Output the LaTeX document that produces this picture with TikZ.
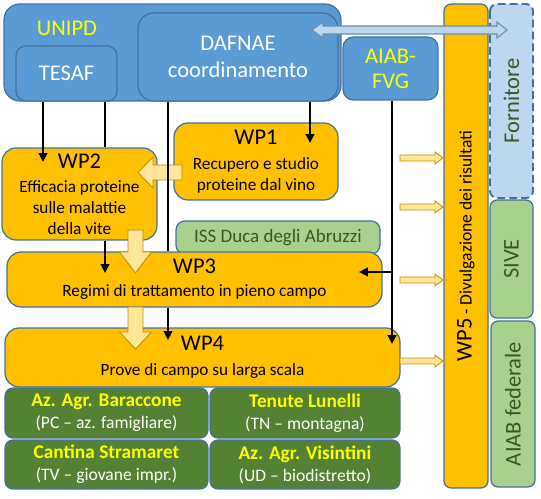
\documentclass[tikz,border=0pt]{standalone}
\usepackage{fontspec}
\setmainfont{Carlito}
\usetikzlibrary{arrows.meta}
\definecolor{boxblue}{HTML}{5B9BD5}
\definecolor{edgeblue}{HTML}{41719C}
\definecolor{wporange}{HTML}{FFC000}
\definecolor{lightgreen}{HTML}{A9D18E}
\definecolor{farmgreen}{HTML}{548235}
\definecolor{textgreen}{HTML}{385723}
\definecolor{paleblue}{HTML}{BDD7EE}
\definecolor{paleyellow}{HTML}{FFE699}
\definecolor{arrowgold}{HTML}{BF9000}
\definecolor{labelyellow}{HTML}{FFFF00}
\newcommand{\wptitle}{\fontsize{12.8}{15}\selectfont}
\newcommand{\wpbody}{\fontsize{9.8}{11.8}\selectfont}
\newcommand{\farmname}{\fontsize{11}{12.5}\selectfont\bfseries\color{labelyellow}}
\tikzset{
  panel/.style={draw=edgeblue, line width=0.7pt, rounded corners=#1, inner sep=0pt, align=center},
  panel/.default=8pt,
  unibox/.style={panel, fill=boxblue, text=white, font=\wptitle},
  wpbox/.style={panel, fill=wporange, font=\wpbody},
  sidebox/.style={panel=4pt, fill=lightgreen, text=textgreen, font=\wptitle},
  farmbox/.style={panel=4.5pt, fill=farmgreen, text=white, font=\fontsize{10}{12.5}\selectfont},
  blockarr/.style={fill=paleyellow, draw=arrowgold, line width=0.5pt, line join=miter},
  link/.style={line width=1.4pt, -{Triangle[length=5pt,width=4.8pt]}}
}

\begin{document}
\begin{tikzpicture}[x=0.02cm, y=-0.02cm]
\useasboundingbox (0,0) rectangle (541,499);

% university and partners
\node[unibox, rounded corners=9pt, minimum width=6.74cm, minimum height=1.94cm] (unipd) at (172.5,52.5) {};
\node[font=\wptitle, text=labelyellow] (unipdname) at (67,28) {UNIPD};
\node[unibox, rounded corners=9pt, minimum width=4.0cm, minimum height=1.76cm, font=\fontsize{12.8}{15.4}\selectfont] (dafnae) at (238,57) {DAFNAE\\coordinamento};
\node[unibox, panel=5.5pt, minimum width=2.02cm, minimum height=1.10cm] (tesaf) at (66.5,73.5) {TESAF};
\node[unibox, panel=6pt, minimum width=1.90cm, minimum height=1.26cm, text=labelyellow, font=\fontsize{12.8}{14.2}\selectfont] (fvg) at (390.5,68.5) {AIAB-\\FVG};

% right column
\node[wpbox, panel=4pt, rotate=90, minimum width=9.68cm, minimum height=0.88cm] (wp5) at (466,246)
  {{\wptitle WP5} {\fontsize{10}{12}\selectfont - Divulgazione dei risultati}};
\node[sidebox, fill=paleblue, dashed, dash pattern=on 4.5pt off 2.3pt, line width=1.1pt, rotate=90, minimum width=3.88cm, minimum height=0.86cm] (forn) at (511.5,101) {Fornitore};
\node[sidebox, rotate=90, minimum width=2.36cm, minimum height=0.86cm] (sive) at (511.5,259) {SIVE};
\node[sidebox, rotate=90, minimum width=3.32cm, minimum height=0.88cm] (fed) at (513,404) {AIAB federale};

% work packages
\node[wpbox, minimum width=3.28cm, minimum height=1.54cm] (wp1) at (256,161.5)
  {{\wptitle WP1}\\[2.4pt] Recupero e studio\\ proteine dal vino};
\node[wpbox, minimum width=3.10cm, minimum height=1.84cm] (wp2) at (79.5,194)
  {{\wptitle WP2}\\[2.4pt] Efficacia proteine\\ sulle malattie\\ della vite};
\node[sidebox, panel=5pt, minimum width=4.08cm, minimum height=0.66cm, font=\fontsize{10.8}{13}\selectfont] (iss) at (278,237.5) {ISS Duca degli Abruzzi};
\node[wpbox, minimum width=7.50cm, minimum height=1.10cm] (wp3) at (194.5,279.5)
  {{\wptitle WP3}\\[1.2pt] Regimi di trattamento in pieno campo};
\node[wpbox, minimum width=7.90cm, minimum height=1.18cm] (wp4) at (202.5,357.5)
  {{\wptitle WP4}\\[2.4pt] Prove di campo su larga scala};

% farms
\node[farmbox, minimum width=4.06cm, minimum height=1.0cm] (baraccone) at (106.5,413)
  {{\farmname Az. Agr. Baraccone}\\ (PC – az. famigliare)};
\node[farmbox, minimum width=3.80cm, minimum height=1.0cm] (lunelli) at (305,413)
  {{\farmname Tenute Lunelli}\\ (TN – montagna)};
\node[farmbox, minimum width=4.06cm, minimum height=0.98cm] (stramaret) at (106.5,464.5)
  {{\farmname Cantina Stramaret}\\ (TV – giovane impr.)};
\node[farmbox, minimum width=3.80cm, minimum height=0.98cm] (visintini) at (305,464.5)
  {{\farmname Az. Agr. Visintini}\\ (UD – biodistretto)};

% block arrows
\draw[fill=paleblue, draw=edgeblue!80, line width=0.6pt] (312,30) -- (323,22) -- (323,26) -- (497,26) -- (497,22) -- (507,30)
  -- (497,38) -- (497,34) -- (323,34) -- (323,38) -- cycle;
\draw[blockarr] (182,165) -- (153,165) -- (153,157) -- (138,172.5) -- (153,188) -- (153,180) -- (182,180) -- cycle;
\draw[blockarr] (128,230) -- (143,230) -- (143,252) -- (151.5,252) -- (135.5,273) -- (119.5,252) -- (128,252) -- cycle;
\draw[blockarr] (128,307) -- (143,307) -- (143,332) -- (151.5,332) -- (135.5,349) -- (119.5,332) -- (128,332) -- cycle;
\foreach \y in {158,207,280,361}
  \draw[blockarr] (400,\y-3) -- (435,\y-3) -- (435,\y-6) -- (443,\y) -- (435,\y+6) -- (435,\y+3) -- (400,\y+3) -- cycle;

% links
\draw[link] (tesaf.south -| 43,0) -- (43,162);
\draw[line width=1.4pt] (tesaf.south -| 105,0) -- (wp2.north -| 105,0);
\draw[link] (wp2.south -| 105,0) -- (105,273);
\draw[line width=1.4pt] (dafnae.south -| 168,0) -- (wp3.north -| 168,0);
\draw[link] (wp3.south -| 168,0) -- (168,340);
\draw[link] (dafnae.south -| 310,0) -- (310,143);
\draw[link] (fvg.south) ++(1.5,0) coordinate (fvgfoot) -- (fvgfoot |- 0,344);
\draw[link] (fvgfoot |- 0,272) -- (359,272);
\end{tikzpicture}
\end{document}
